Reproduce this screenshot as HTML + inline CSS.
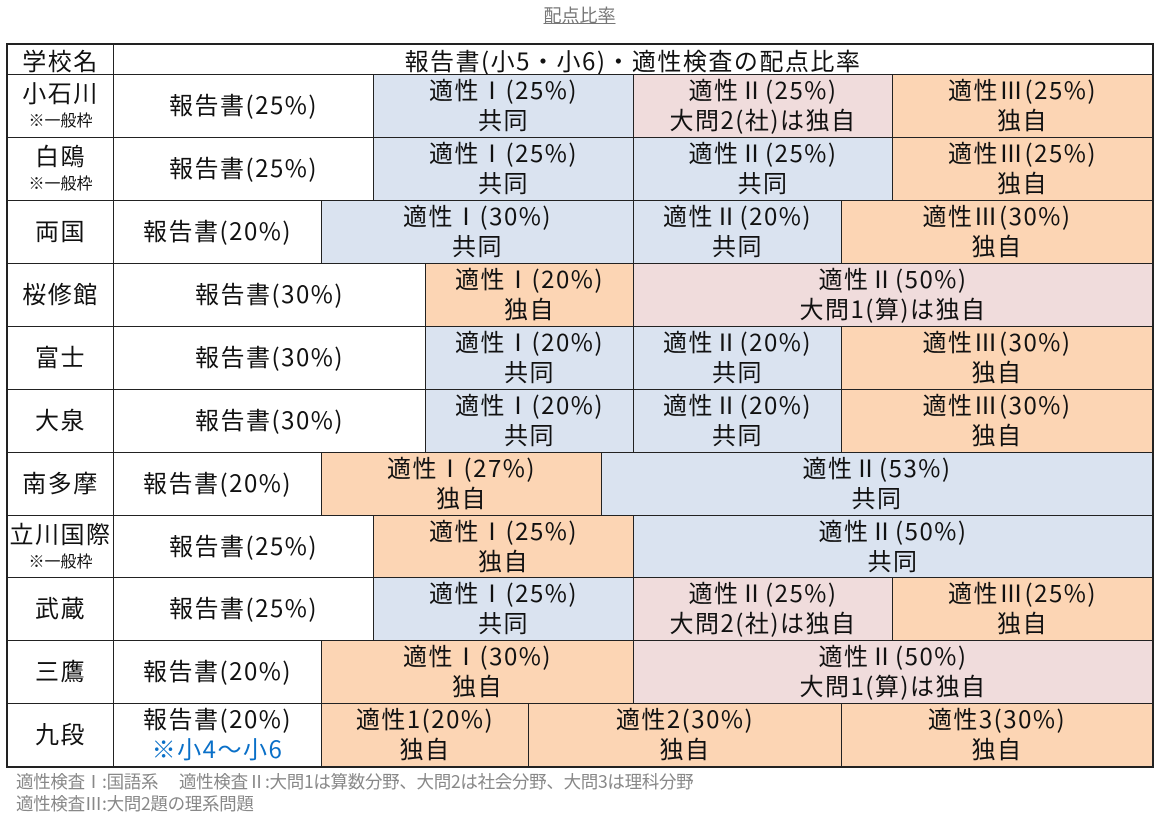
<!DOCTYPE html>
<html><head><meta charset="utf-8"><style>
*{margin:0;padding:0;box-sizing:border-box}
body{width:1159px;height:820px;background:#fff;position:relative;overflow:hidden;font-family:"Noto Sans CJK JP","Liberation Sans",sans-serif;color:#111}
.t{position:absolute;top:2px;left:0;width:1159px;text-align:center;font-size:18px;line-height:26px;color:#777;text-decoration:underline}
.c{position:absolute;border:1px solid #222;text-align:center;font-size:24px;line-height:30px;letter-spacing:1.5px;display:flex;flex-direction:column;justify-content:center;white-space:nowrap;overflow:hidden;padding-bottom:4px}
.b{background:#dae3f0}.p{background:#f0dcdc}.o{background:#fcd5b4}.w{background:#fff}
.s{font-size:16px;line-height:24px;letter-spacing:0}
.n{position:absolute;left:16px;font-size:17.5px;color:#888;line-height:21px;white-space:nowrap;letter-spacing:-0.3px}
</style></head><body>
<div class="t">配点比率</div>
<div class="c w" style="left:7px;top:44px;width:107px;height:31px;line-height:28px;padding:0">学校名</div>
<div class="c w" style="left:113px;top:44px;width:1040px;height:31px;line-height:28px;padding:0">報告書(小5・小6)・適性検査の配点比率</div>

<div class="c w" style="left:7px;top:74px;width:107px;height:64px"><div>小石川</div><div class="s">※一般枠</div></div>
<div class="c w" style="left:113px;top:74px;width:261px;height:64px">報告書(25%)</div>
<div class="c b" style="left:373px;top:74px;width:261px;height:64px"><div>適性Ⅰ(25%)</div><div>共同</div></div>
<div class="c p" style="left:633px;top:74px;width:260px;height:64px"><div>適性Ⅱ(25%)</div><div>大問2(社)は独自</div></div>
<div class="c o" style="left:892px;top:74px;width:261px;height:64px"><div>適性Ⅲ(25%)</div><div>独自</div></div>

<div class="c w" style="left:7px;top:137px;width:107px;height:64px"><div>白鴎</div><div class="s">※一般枠</div></div>
<div class="c w" style="left:113px;top:137px;width:261px;height:64px">報告書(25%)</div>
<div class="c b" style="left:373px;top:137px;width:261px;height:64px"><div>適性Ⅰ(25%)</div><div>共同</div></div>
<div class="c b" style="left:633px;top:137px;width:260px;height:64px"><div>適性Ⅱ(25%)</div><div>共同</div></div>
<div class="c o" style="left:892px;top:137px;width:261px;height:64px"><div>適性Ⅲ(25%)</div><div>独自</div></div>

<div class="c w" style="left:7px;top:200px;width:107px;height:64px">両国</div>
<div class="c w" style="left:113px;top:200px;width:209px;height:64px">報告書(20%)</div>
<div class="c b" style="left:321px;top:200px;width:313px;height:64px"><div>適性Ⅰ(30%)</div><div>共同</div></div>
<div class="c b" style="left:633px;top:200px;width:209px;height:64px"><div>適性Ⅱ(20%)</div><div>共同</div></div>
<div class="c o" style="left:841px;top:200px;width:312px;height:64px"><div>適性Ⅲ(30%)</div><div>独自</div></div>

<div class="c w" style="left:7px;top:263px;width:107px;height:64px">桜修館</div>
<div class="c w" style="left:113px;top:263px;width:313px;height:64px">報告書(30%)</div>
<div class="c o" style="left:425px;top:263px;width:209px;height:64px"><div>適性Ⅰ(20%)</div><div>独自</div></div>
<div class="c p" style="left:633px;top:263px;width:520px;height:64px"><div>適性Ⅱ(50%)</div><div>大問1(算)は独自</div></div>

<div class="c w" style="left:7px;top:326px;width:107px;height:64px">富士</div>
<div class="c w" style="left:113px;top:326px;width:313px;height:64px">報告書(30%)</div>
<div class="c b" style="left:425px;top:326px;width:209px;height:64px"><div>適性Ⅰ(20%)</div><div>共同</div></div>
<div class="c b" style="left:633px;top:326px;width:209px;height:64px"><div>適性Ⅱ(20%)</div><div>共同</div></div>
<div class="c o" style="left:841px;top:326px;width:312px;height:64px"><div>適性Ⅲ(30%)</div><div>独自</div></div>

<div class="c w" style="left:7px;top:389px;width:107px;height:64px">大泉</div>
<div class="c w" style="left:113px;top:389px;width:313px;height:64px">報告書(30%)</div>
<div class="c b" style="left:425px;top:389px;width:209px;height:64px"><div>適性Ⅰ(20%)</div><div>共同</div></div>
<div class="c b" style="left:633px;top:389px;width:209px;height:64px"><div>適性Ⅱ(20%)</div><div>共同</div></div>
<div class="c o" style="left:841px;top:389px;width:312px;height:64px"><div>適性Ⅲ(30%)</div><div>独自</div></div>

<div class="c w" style="left:7px;top:452px;width:107px;height:64px">南多摩</div>
<div class="c w" style="left:113px;top:452px;width:209px;height:64px">報告書(20%)</div>
<div class="c o" style="left:321px;top:452px;width:281px;height:64px"><div>適性Ⅰ(27%)</div><div>独自</div></div>
<div class="c b" style="left:601px;top:452px;width:552px;height:64px"><div>適性Ⅱ(53%)</div><div>共同</div></div>

<div class="c w" style="left:7px;top:515px;width:107px;height:63px"><div>立川国際</div><div class="s">※一般枠</div></div>
<div class="c w" style="left:113px;top:515px;width:261px;height:63px">報告書(25%)</div>
<div class="c o" style="left:373px;top:515px;width:261px;height:63px"><div>適性Ⅰ(25%)</div><div>独自</div></div>
<div class="c b" style="left:633px;top:515px;width:520px;height:63px"><div>適性Ⅱ(50%)</div><div>共同</div></div>

<div class="c w" style="left:7px;top:577px;width:107px;height:64px">武蔵</div>
<div class="c w" style="left:113px;top:577px;width:261px;height:64px">報告書(25%)</div>
<div class="c b" style="left:373px;top:577px;width:261px;height:64px"><div>適性Ⅰ(25%)</div><div>共同</div></div>
<div class="c p" style="left:633px;top:577px;width:260px;height:64px"><div>適性Ⅱ(25%)</div><div>大問2(社)は独自</div></div>
<div class="c o" style="left:892px;top:577px;width:261px;height:64px"><div>適性Ⅲ(25%)</div><div>独自</div></div>

<div class="c w" style="left:7px;top:640px;width:107px;height:64px">三鷹</div>
<div class="c w" style="left:113px;top:640px;width:209px;height:64px">報告書(20%)</div>
<div class="c o" style="left:321px;top:640px;width:313px;height:64px"><div>適性Ⅰ(30%)</div><div>独自</div></div>
<div class="c p" style="left:633px;top:640px;width:520px;height:64px"><div>適性Ⅱ(50%)</div><div>大問1(算)は独自</div></div>

<div class="c w" style="left:7px;top:703px;width:107px;height:64px">九段</div>
<div class="c w" style="left:113px;top:703px;width:209px;height:64px"><div>報告書(20%)</div><div style="color:#0a70c8">※小4～小6</div></div>
<div class="c o" style="left:321px;top:703px;width:208px;height:64px"><div>適性1(20%)</div><div>独自</div></div>
<div class="c o" style="left:528px;top:703px;width:314px;height:64px"><div>適性2(30%)</div><div>独自</div></div>
<div class="c o" style="left:841px;top:703px;width:312px;height:64px"><div>適性3(30%)</div><div>独自</div></div>
<div style="position:absolute;left:6px;top:43px;width:1148px;height:725px;border:2px solid #222;pointer-events:none"></div>

<div class="n" style="top:771px">適性検査Ⅰ:国語系　 適性検査Ⅱ:大問1は算数分野、大問2は社会分野、大問3は理科分野</div>
<div class="n" style="top:793px">適性検査Ⅲ:大問2題の理系問題</div>
</body></html>
